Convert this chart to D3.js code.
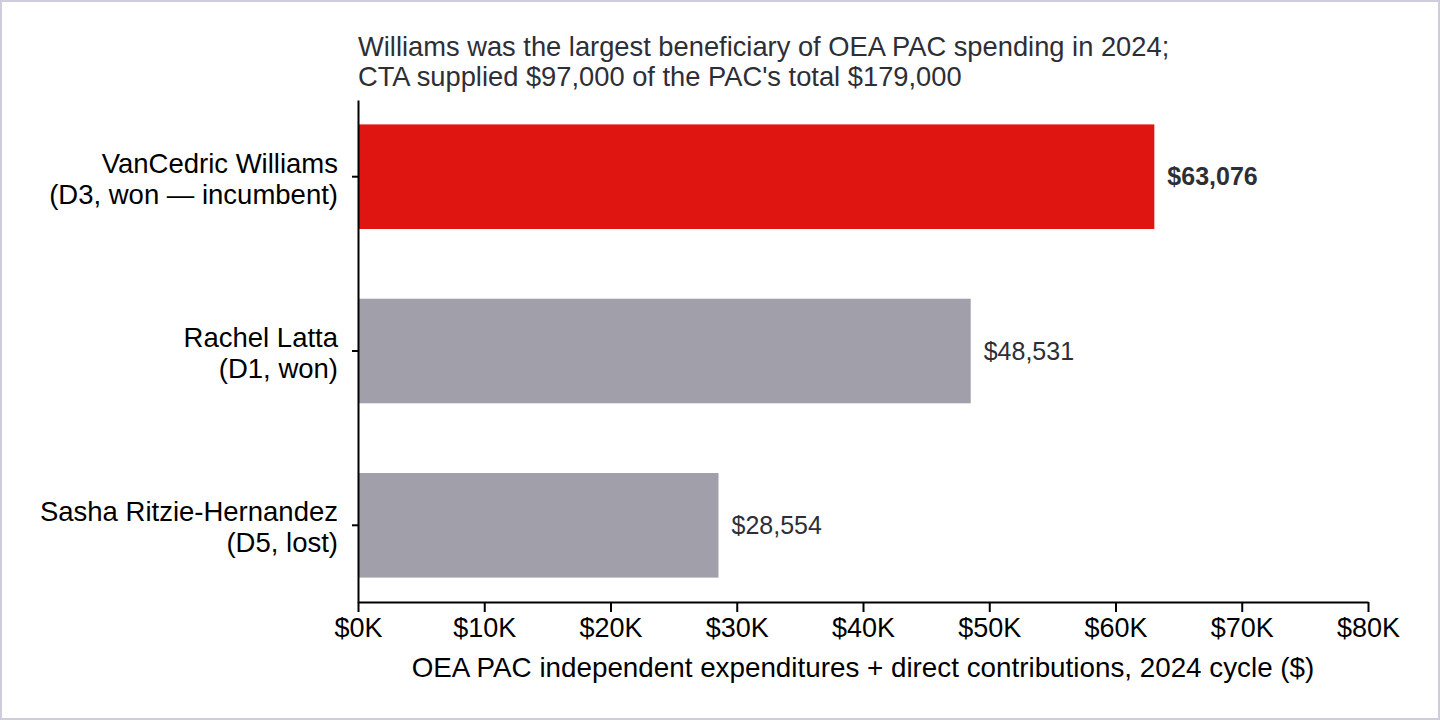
<!DOCTYPE html>
<html>
<head>
<meta charset="utf-8">
<script src="https://cdn.jsdelivr.net/npm/d3@7"></script>
<style>
  html, body { margin: 0; padding: 0; background: #fff; }
  #chart { width: 1440px; height: 720px; }
  text { font-family: "Liberation Sans", Arial, sans-serif; }
</style>
</head>
<body>
<div id="chart"></div>
<script>
const candidates = ["VanCedric Williams", "Rachel Latta", "Sasha Ritzie-Hernandez"];
const candidateNotes = ["(D3, won \u2014 incumbent)", "(D1, won)", "(D5, lost)"];
const spending = [63076, 48531, 28554];
const xTicks = [0, 10000, 20000, 30000, 40000, 50000, 60000, 70000, 80000];
const titleLines = ["Williams was the largest beneficiary of OEA PAC spending in 2024;",
                    "CTA supplied $97,000 of the PAC's total $179,000"];
const xLabel = "OEA PAC independent expenditures + direct contributions, 2024 cycle ($)";

const W = 1440, H = 720;
const margin = {top: 100, right: 72, bottom: 118, left: 358},
    width = W - margin.left - margin.right,
    height = H - margin.top - margin.bottom;

const data = candidates.map((c, i) => ({name: c, note: candidateNotes[i], value: spending[i]}));

const svg = d3.select("#chart")
    .append("svg")
    .attr("width", W)
    .attr("height", H);

// frame round the whole picture
svg.append("rect")
    .attr("x", 1).attr("y", 1)
    .attr("width", W - 2).attr("height", H - 2)
    .attr("fill", "#fff")
    .attr("stroke", "#cdcddb")
    .attr("stroke-width", 2);

const g = svg.append("g")
    .attr("transform", `translate(${margin.left}, ${margin.top})`);

const x = d3.scaleLinear()
    .domain([0, 80000])
    .range([0, width]);

const y = d3.scaleBand()
    .domain(candidates)
    .range([0, height])
    .paddingInner(0.4)
    .paddingOuter(0.14);

// bars
g.selectAll(".bar")
    .data(data)
    .enter()
    .append("rect")
        .attr("class", "bar")
        .attr("x", x(0))
        .attr("y", d => y(d.name))
        .attr("width", d => x(d.value) - x(0))
        .attr("height", y.bandwidth())
        .attr("fill", (d, i) => i === 0 ? "#de1510" : "#a1a0aa");

// value labels
g.selectAll(".val")
    .data(data)
    .enter()
    .append("text")
        .attr("class", "val")
        .attr("x", d => x(d.value) + 13)
        .attr("y", d => y(d.name) + y.bandwidth() / 2)
        .attr("dy", "0.35em")
        .style("font-size", "25px")
        .style("font-weight", (d, i) => i === 0 ? "bold" : "normal")
        .attr("fill", "#2e2e36")
        .text(d => "$" + d3.format(",")(d.value));

// x axis
const xAxis = g.append("g")
    .attr("transform", `translate(0, ${height})`)
    .call(d3.axisBottom(x)
        .tickValues(xTicks)
        .tickSize(10)
        .tickSizeOuter(0)
        .tickFormat(d => "$" + (d / 1000) + "K"));
xAxis.select(".domain").attr("stroke", "#000").attr("stroke-width", 2);
xAxis.selectAll(".tick line").attr("stroke", "#000").attr("stroke-width", 2);
xAxis.selectAll(".tick text")
    .attr("y", 16)
    .attr("fill", "#000")
    .style("font-size", "27px")
    .style("font-family", "Liberation Sans, Arial, sans-serif");

// y axis
const yAxis = g.append("g")
    .call(d3.axisLeft(y).tickSize(6).tickSizeOuter(0));
yAxis.select(".domain").attr("stroke", "#000").attr("stroke-width", 2);
yAxis.selectAll(".tick line").attr("stroke", "#000").attr("stroke-width", 2);
yAxis.selectAll(".tick text").remove();
yAxis.selectAll(".tick")
    .append("text")
    .attr("x", -20)
    .attr("text-anchor", "end")
    .attr("fill", "#000")
    .style("font-size", "27.5px")
    .style("font-family", "Liberation Sans, Arial, sans-serif")
    .each(function(d, i) {
        const t = d3.select(this);
        t.append("tspan").attr("x", -20).attr("y", -4).text(d);
        t.append("tspan").attr("x", -20).attr("y", 27).text(candidateNotes[i]);
    });

// title
svg.append("text")
    .attr("x", margin.left)
    .attr("y", 56)
    .attr("fill", "#2e2e36")
    .style("font-size", "27.3px")
    .selectAll("tspan")
    .data(titleLines)
    .enter()
    .append("tspan")
        .attr("x", margin.left)
        .attr("dy", (d, i) => i === 0 ? 0 : 30)
        .text(d => d);

// x axis title
svg.append("text")
    .attr("x", margin.left + width / 2)
    .attr("y", 677)
    .attr("text-anchor", "middle")
    .attr("fill", "#000")
    .style("font-size", "27.8px")
    .text(xLabel);
</script>
</body>
</html>
